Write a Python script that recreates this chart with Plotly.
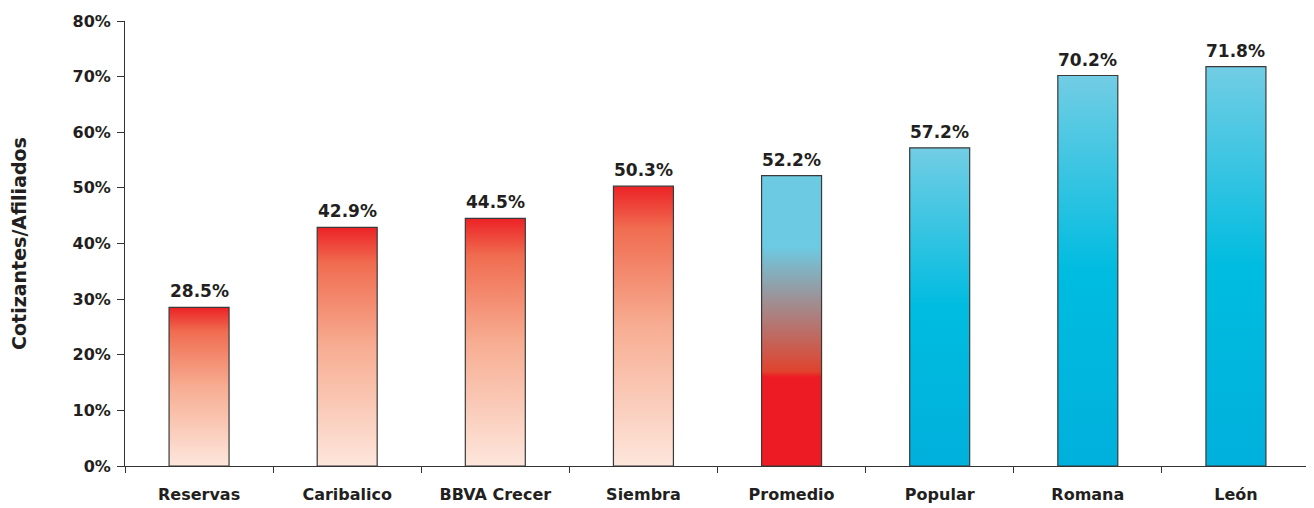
import plotly.graph_objects as go

categories = ["Reservas", "Caribalico", "BBVA Crecer", "Siembra", "Promedio", "Popular", "Romana", "León"]
values = [28.5, 42.9, 44.5, 50.3, 52.2, 57.2, 70.2, 71.8]
groups = ["red", "red", "red", "red", "avg", "blue", "blue", "blue"]
y_ticks = [0, 10, 20, 30, 40, 50, 60, 70, 80]

red_scale = [[0.0, "#fde6dc"], [0.5, "#f7ad92"], [0.85, "#f06c50"], [1.0, "#ec2226"]]
blue_scale = [[0.0, "#00b0dc"], [0.5, "#00bce0"], [1.0, "#72cde4"]]
avg_split = [16.0, 39.5]  # red solid up to, light blue from (in %)

FONT = "DejaVu Sans"
TXT = "#231f20"
W = 0.405

fig = go.Figure()
for i, (c, v, g) in enumerate(zip(categories, values, groups)):
    if g == "red":
        cs = red_scale
    elif g == "blue":
        cs = blue_scale
    else:
        a, b = avg_split[0] / v, avg_split[1] / v
        cs = [[0.0, "#ed1c24"], [a, "#ed1c24"], [a + 0.02, "#e0432e"], [b, "#6ccbe3"], [1.0, "#6ccbe3"]]
    fig.add_trace(go.Scatter(
        x=[i - W / 2, i + W / 2, i + W / 2, i - W / 2, i - W / 2],
        y=[0, 0, v, v, 0],
        mode="lines", fill="toself",
        fillgradient=dict(type="vertical", colorscale=cs),
        line=dict(color="#3a3a3a", width=1.2),
        hoverinfo="skip", showlegend=False,
    ))
    fig.add_annotation(
        x=i, y=v, text=f"{v:.1f}%", showarrow=False,
        xanchor="center", yanchor="bottom", yshift=4,
        font=dict(family=FONT, size=17, color=TXT, weight="bold"),
    )

fig.update_layout(
    width=1306, height=500,
    margin=dict(l=117, r=4, t=10, b=42),
    plot_bgcolor="white", paper_bgcolor="white",
    font=dict(family=FONT, color=TXT),
)
fig.update_xaxes(
    range=[-0.5, len(categories) - 0.5],
    tickvals=list(range(len(categories))), ticktext=categories,
    ticks="", showgrid=False, zeroline=False,
    showline=True, linecolor="#333333", linewidth=1,
    tickfont=dict(family=FONT, size=16, color=TXT, weight="bold"),
    ticklabelstandoff=14,
    minor=dict(tickmode="linear", tick0=-0.5, dtick=1, ticks="outside", ticklen=6,
               tickcolor="#333333", showgrid=False),
)
fig.update_yaxes(
    range=[0, 80], tickvals=y_ticks, ticktext=[f"{t}%" for t in y_ticks],
    ticks="outside", ticklen=7, tickcolor="#333333",
    showgrid=False, zeroline=False,
    showline=True, linecolor="#333333", linewidth=1,
    tickfont=dict(family=FONT, size=16, color=TXT, weight="bold"),
    ticklabelstandoff=3,
    title=dict(text="Cotizantes/Afiliados", standoff=40,
               font=dict(family=FONT, size=19, color=TXT, weight="bold")),
)

fig.write_html("out.html")
